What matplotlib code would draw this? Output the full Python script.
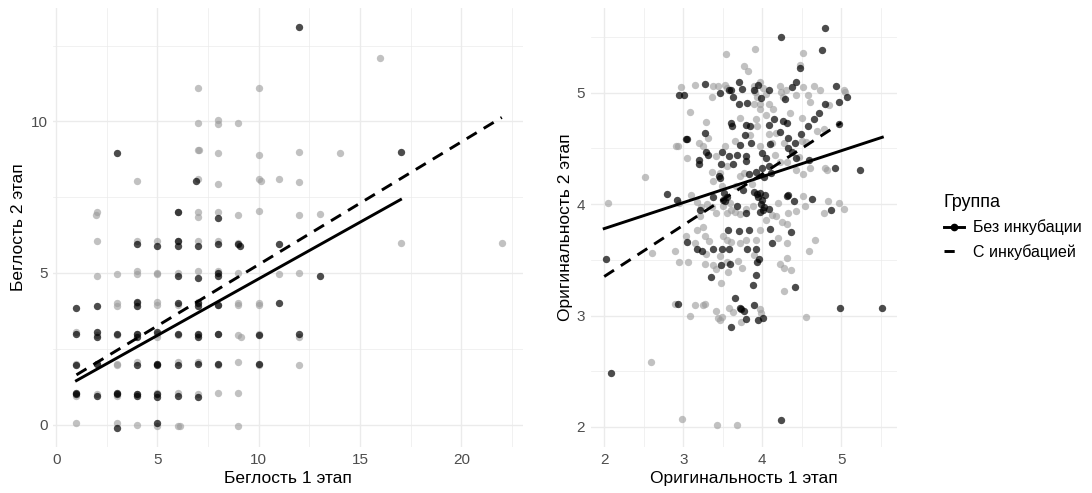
import matplotlib.pyplot as plt
from matplotlib.lines import Line2D

plt.rcParams['font.family'] = ['Liberation Sans', 'DejaVu Sans']

# --- Беглость: точки (с небольшим джиттером, как на картинке) ---
# Без инкубации
fl_bez_x = [12, 3, 17, 6.9, 6, 8, 4, 5, 6, 6, 7, 8, 9, 9.05, 11,
            6, 7, 8, 8, 13, 1, 2, 4, 4, 6, 7, 7, 8, 11,
            1, 2, 2, 3, 4, 4, 5, 6, 7, 7, 8, 10, 12,
            1, 2, 4, 5, 5, 6, 7, 8, 10,
            1, 1, 2, 3, 3, 4, 4, 5, 5, 6, 7, 3, 5]
fl_bez_y = [13.1, 8.95, 9.0, 8.05, 7.0, 6.8, 5.95, 5.9, 6.05, 5.9, 5.9, 5.95, 5.95, 5.9, 5.95,
            4.9, 4.85, 4.9, 5.0, 4.9, 3.85, 3.9, 4.05, 3.9, 4.0, 4.0, 3.9, 3.95, 4.0,
            3.0, 3.05, 2.9, 3.0, 3.0, 2.9, 3.05, 3.0, 3.0, 2.9, 3.0, 2.95, 3.0,
            1.95, 2.0, 1.95, 2.0, 1.95, 1.95, 2.0, 2.0, 2.0,
            1.0, 1.05, 0.95, 1.0, 1.05, 1.0, 0.95, 1.0, 0.9, 0.95, 0.9, -0.1, 0.05]
# С инкубацией
fl_s_x = [16, 7, 10, 7, 8, 8, 9, 7, 7.05, 8, 10, 12, 14,
          4, 7, 8, 10, 10.1, 11, 12,
          2, 1.95, 6, 7, 7, 8, 9, 10, 12, 13,
          2, 4, 5, 6, 7, 8, 9, 17, 22,
          2, 3, 4, 4, 5, 5, 6, 7, 8, 9, 11, 12,
          3, 3, 4, 5, 5, 6, 7, 8, 9, 9, 10, 10,
          1, 2, 3, 4, 5, 5, 6, 7, 8, 9, 9.1, 10, 12,
          1, 2, 3, 3, 4, 5, 6, 7, 8, 9, 10, 12,
          1, 2, 3, 4, 5, 6, 7, 8, 9,
          1, 3, 4, 5, 6, 6.1, 9]
fl_s_y = [12.1, 11.1, 11.1, 9.95, 10.05, 9.9, 9.95, 9.05, 9.05, 8.95, 8.9, 9.0, 8.95,
          8.05, 8.1, 7.95, 8.1, 8.05, 8.1, 8.0,
          7.0, 6.9, 7.0, 7.0, 6.85, 7.0, 6.9, 7.05, 6.9, 6.95,
          6.05, 6.05, 6.05, 6.05, 6.05, 6.05, 6.0, 6.0, 6.0,
          4.9, 4.95, 5.05, 4.95, 5.0, 4.95, 5.0, 5.05, 5.05, 5.0, 4.95, 5.0,
          4.0, 3.9, 4.0, 4.05, 3.95, 3.95, 4.05, 3.95, 3.95, 4.0, 3.95, 4.0,
          3.05, 2.95, 2.95, 3.0, 3.0, 2.9, 2.95, 2.95, 3.0, 2.95, 2.9, 3.0, 2.9,
          2.0, 2.0, 2.0, 1.95, 2.05, 2.0, 2.05, 2.05, 1.95, 2.05, 1.95, 1.95,
          0.95, 1.0, 0.95, 1.0, 1.05, 1.05, 1.0, 1.05, 1.05,
          0.05, 0.05, -0.02, -0.05, -0.05, -0.05, -0.05]

# --- Оригинальность: точки ---
or_bez_x = [4.79, 4.24, 4.76, 4.48, 3.27, 4.43, 3.70, 4.94, 2.95, 3.01, 3.46, 3.58, 3.60, 3.74, 3.90,
            3.95, 4.09, 4.29, 4.38, 5.07, 4.97, 4.79, 3.71, 3.81, 3.63, 3.99, 4.72, 4.65, 4.58, 4.97,
            3.60, 3.62, 3.79, 3.84, 4.08, 4.15, 4.26, 4.31, 3.27, 3.78, 4.49, 4.33, 4.42, 3.03, 3.05,
            4.10, 3.86, 3.72, 3.49, 3.29, 3.20, 3.20, 3.31, 3.58, 3.68, 3.79, 3.80, 4.00, 4.05, 4.33,
            4.38, 4.43, 4.59, 4.92, 5.24, 3.63, 3.48, 3.83, 3.92, 4.00, 4.02, 4.11, 3.45, 3.47, 2.79,
            2.92, 3.51, 3.50, 3.53, 3.55, 3.38, 3.76, 3.89, 3.93, 3.95, 3.97, 3.98, 4.01, 3.97, 4.00,
            4.02, 4.03, 4.08, 4.31, 4.40, 4.63, 4.87, 3.21, 3.68, 3.79, 4.10, 4.12, 4.37, 3.05, 3.17,
            3.24, 3.38, 3.49, 3.58, 3.57, 3.70, 3.83, 3.81, 3.92, 3.96, 3.93, 3.59, 3.48, 2.02, 3.35,
            3.92, 3.88, 4.42, 3.65, 2.93, 3.72, 3.73, 3.90, 3.77, 3.80, 3.60, 3.95, 4.01, 4.98, 5.52,
            2.08, 4.24, 4.08, 4.22, 4.33]
or_bez_y = [5.58, 5.50, 5.38, 5.22, 5.08, 5.10, 5.10, 5.06, 4.98, 4.98, 5.00, 5.02, 5.02, 5.03, 5.02,
            5.07, 5.02, 4.94, 5.05, 4.96, 4.92, 4.90, 4.90, 4.91, 4.96, 4.95, 4.82, 4.76, 4.70, 4.72,
            4.73, 4.70, 4.71, 4.70, 4.71, 4.76, 4.75, 4.73, 4.64, 4.62, 4.63, 4.59, 4.55, 4.58, 4.58,
            4.54, 4.55, 4.53, 4.47, 4.47, 4.40, 4.36, 4.44, 4.43, 4.44, 4.39, 4.43, 4.46, 4.41, 4.50,
            4.47, 4.41, 4.40, 4.32, 4.31, 4.36, 4.36, 4.27, 4.29, 4.32, 4.24, 4.28, 4.25, 4.23, 4.09,
            4.04, 4.10, 4.04, 4.03, 4.06, 4.06, 4.13, 4.11, 4.09, 4.06, 4.10, 4.00, 3.95, 3.93, 4.04,
            3.97, 4.08, 3.96, 4.07, 4.03, 4.05, 3.95, 3.95, 3.98, 3.92, 3.78, 3.65, 3.75, 3.66, 3.60,
            3.58, 3.60, 3.60, 3.60, 3.77, 3.76, 3.77, 3.60, 3.60, 3.51, 3.48, 3.46, 3.45, 3.51, 3.35,
            3.36, 3.27, 3.26, 3.16, 3.10, 3.07, 3.06, 3.09, 3.04, 2.97, 2.90, 2.96, 2.98, 3.07, 3.07,
            2.48, 2.06, 4.34, 4.65, 4.08]

or_s_x = [3.54, 3.91, 4.51, 4.48, 3.77, 3.82, 2.97, 3.15, 3.38, 3.44, 3.36, 3.53, 3.55,
          3.89, 3.91, 3.97, 4.01, 4.05, 3.93, 3.97, 3.89, 4.09, 4.22, 4.24, 4.26, 4.30,
          4.43, 4.52, 4.58, 4.65, 4.60, 4.73, 5.03, 5.05, 3.09, 2.94, 3.05, 3.29, 3.31, 3.25,
          3.36, 3.46, 3.56, 3.38, 3.49, 3.72, 3.67, 3.77, 3.87, 3.72, 3.92, 3.97, 4.14, 4.18,
          4.09, 3.93, 3.84, 3.97, 4.16, 4.22, 4.31, 4.43, 4.51, 4.61, 4.47, 4.56, 4.69, 4.78,
          4.84, 4.79, 4.82, 4.83, 4.78, 4.97, 5.03, 4.52, 4.54, 4.43, 4.33, 4.20, 4.18, 4.13,
          4.25, 4.31, 4.67, 4.59, 4.31, 4.31, 4.20, 4.22, 4.27, 4.37, 4.27, 4.55,
          3.65, 3.72, 3.80, 3.88, 3.50, 3.55, 3.59, 3.61, 3.30, 3.37, 3.42, 3.17, 3.23, 3.21,
          3.10, 2.95, 3.17, 3.25, 3.27, 3.15, 3.33, 3.50, 3.55, 3.61, 3.72, 3.80, 3.92, 3.97,
          4.05, 3.29, 3.38, 3.42, 3.55, 3.69, 3.74, 3.90, 3.27, 3.46, 3.48, 3.57, 2.90, 2.95,
          3.06, 3.04, 2.60, 2.52, 2.05, 2.90, 3.15, 3.25, 3.27, 3.08, 3.42, 3.44, 3.47, 3.49,
          3.58, 3.63, 3.73, 3.97, 3.99, 2.59, 2.99, 3.43, 3.68, 2.91, 4.12, 4.27, 4.50, 4.35,
          4.50, 4.05, 3.65, 3.53, 3.42, 3.20]
or_s_y = [5.35, 5.39, 5.36, 5.25, 5.24, 5.19, 5.05, 5.07, 5.06, 5.06, 4.96, 5.07, 5.04,
          5.06, 5.01, 5.10, 5.04, 4.99, 4.96, 4.90, 4.90, 4.90, 5.06, 5.01, 4.96, 5.02,
          4.98, 5.05, 4.98, 5.06, 4.92, 5.02, 5.02, 5.01, 4.83, 4.52, 4.41, 4.74, 4.59, 4.52,
          4.29, 4.28, 4.34, 4.21, 4.16, 4.25, 4.16, 4.28, 4.18, 4.77, 4.76, 4.85, 4.85, 4.64,
          4.63, 4.70, 4.62, 4.52, 4.44, 4.38, 4.38, 4.31, 4.27, 4.32, 4.42, 4.56, 4.66, 4.67,
          4.89, 4.32, 4.31, 4.03, 3.92, 4.01, 3.96, 4.07, 3.98, 3.94, 3.92, 4.01, 3.89, 3.90,
          3.84, 3.82, 3.68, 3.58, 3.65, 3.52, 3.70, 3.46, 3.43, 3.41, 3.22, 2.99,
          3.93, 3.91, 3.96, 3.98, 3.98, 3.92, 4.01, 3.95, 4.00, 3.97, 3.92, 4.02, 3.97, 3.89,
          4.08, 4.01, 3.77, 3.79, 3.71, 3.65, 3.67, 3.71, 3.68, 3.66, 3.65, 3.68, 3.68, 3.77,
          3.86, 3.55, 3.45, 3.42, 3.48, 3.49, 3.43, 3.54, 3.46, 3.53, 3.29, 3.39, 3.58, 3.48,
          3.48, 3.71, 3.56, 4.24, 4.01, 3.10, 3.09, 3.09, 3.10, 3.00, 3.04, 2.98, 2.96, 2.99,
          3.07, 3.03, 2.94, 3.06, 3.02, 2.58, 2.07, 2.02, 2.02, 4.52, 4.55, 4.55, 4.57, 4.82,
          4.77, 4.80, 4.57, 4.52, 4.43, 4.55]

# линии регрессии (концы)
fl_bez_line_x = [1, 17]
fl_bez_line_y = [1.45, 7.42]
fl_s_line_x = [1, 22]
fl_s_line_y = [1.64, 10.13]
or_bez_line_x = [2.0, 5.52]
or_bez_line_y = [3.78, 4.60]
or_s_line_x = [2.0, 5.0]
or_s_line_y = [3.35, 4.73]

gruppy = ['Без инкубации', 'С инкубацией']

TXT = '#4d4d4d'
GRID = '#ebebeb'
SERYI = '#999999'
RAZMER = 28


def oformit(ax, xmaj, xmin, ymaj, ymin, xlim, ylim, xlab, ylab):
    ax.set_xlim(xlim)
    ax.set_ylim(ylim)
    ax.set_xticks(xmaj)
    ax.set_xticks(xmin, minor=True)
    ax.set_yticks(ymaj)
    ax.set_yticks(ymin, minor=True)
    ax.grid(True, which='major', color=GRID, lw=1.0)
    ax.grid(True, which='minor', color=GRID, lw=0.5)
    ax.set_axisbelow(True)
    for s in ax.spines.values():
        s.set_visible(False)
    ax.tick_params(which='both', length=0, labelsize=11, labelcolor=TXT, pad=4)
    ax.set_xlabel(xlab, fontsize=12.5, color='black', labelpad=3)
    ax.set_ylabel(ylab, fontsize=12.5, color='black', labelpad=3)


fig = plt.figure(figsize=(10.92, 4.93), dpi=100)
ax1 = fig.add_axes([0.0485, 0.0933, 0.4305, 0.8905])
ax2 = fig.add_axes([0.541, 0.0933, 0.280, 0.8905])

# левая панель
ax1.scatter(fl_s_x, fl_s_y, s=RAZMER, color=SERYI, alpha=0.6, lw=0)
ax1.scatter(fl_bez_x, fl_bez_y, s=RAZMER, color='black', alpha=0.7, lw=0)
ax1.plot(fl_bez_line_x, fl_bez_line_y, color='black', lw=2.1)
ax1.plot(fl_s_line_x, fl_s_line_y, color='black', lw=2.1, dashes=(4, 2.8))
oformit(ax1, [0, 5, 10, 15, 20], [2.5, 7.5, 12.5, 17.5, 22.5],
        [0, 5, 10], [2.5, 7.5, 12.5], (-0.16, 23.05), (-0.74, 13.74),
        'Беглость 1 этап', 'Беглость 2 этап')

# правая панель
ax2.scatter(or_s_x, or_s_y, s=RAZMER, color=SERYI, alpha=0.6, lw=0)
ax2.scatter(or_bez_x, or_bez_y, s=RAZMER, color='black', alpha=0.7, lw=0)
ax2.plot(or_bez_line_x, or_bez_line_y, color='black', lw=2.1)
ax2.plot(or_s_line_x, or_s_line_y, color='black', lw=2.1, dashes=(4, 2.8))
oformit(ax2, [2, 3, 4, 5], [2.5, 3.5, 4.5, 5.5],
        [2, 3, 4, 5], [2.5, 3.5, 4.5, 5.5], (1.83, 5.70), (1.82, 5.76),
        'Оригинальность 1 этап', 'Оригинальность 2 этап')

# легенда
ruchki = [Line2D([], [], color='black', lw=2.1, marker='o', ms=4.5),
          Line2D([], [], color='black', lw=2.1, dashes=(3.5, 4.5))]
leg = fig.legend(ruchki, gruppy, loc='center left', bbox_to_anchor=(0.851, 0.540),
                 frameon=False, fontsize=11.5, title='Группа', title_fontsize=13,
                 handlelength=1.25, handletextpad=0.6, labelspacing=0.55)
leg._legend_box.align = 'left'

fig.savefig('out.png', dpi=100)
